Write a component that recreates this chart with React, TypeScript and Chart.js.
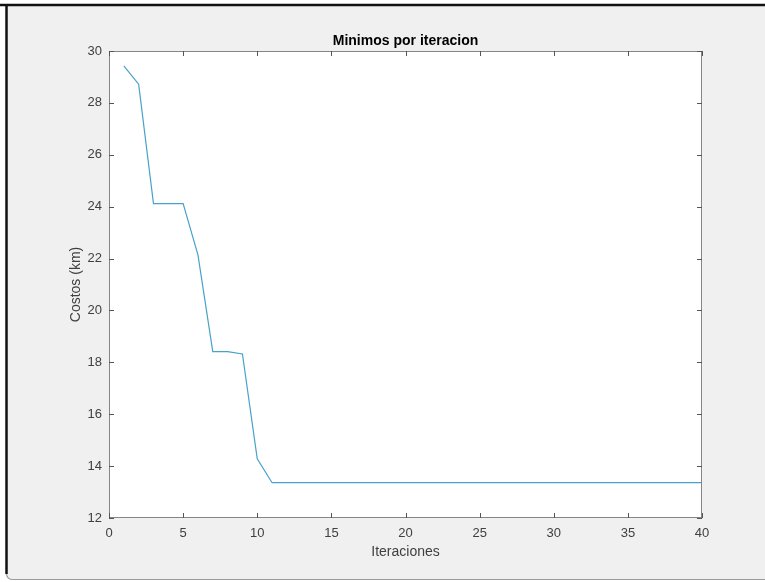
import React, { useEffect, useRef } from "react";
import { Chart, registerables } from "chart.js";

Chart.register(...registerables);

const TITLE = "Minimos por iteracion";
const X_LABEL = "Iteraciones";
const Y_LABEL = "Costos (km)";

const iterations = [
  1, 2, 3, 4, 5, 6, 7, 8, 9, 10,
  11, 12, 13, 14, 15, 16, 17, 18, 19, 20,
  21, 22, 23, 24, 25, 26, 27, 28, 29, 30,
  31, 32, 33, 34, 35, 36, 37, 38, 39, 40,
];

const costs = [
  29.43, 28.72, 24.12, 24.12, 24.12, 22.14, 18.41, 18.41, 18.32, 14.28,
  13.36, 13.36, 13.36, 13.36, 13.36, 13.36, 13.36, 13.36, 13.36, 13.36,
  13.36, 13.36, 13.36, 13.36, 13.36, 13.36, 13.36, 13.36, 13.36, 13.36,
  13.36, 13.36, 13.36, 13.36, 13.36, 13.36, 13.36, 13.36, 13.36, 13.36,
];

const X_MIN = 0;
const X_MAX = 40;
const X_STEP = 5;
const Y_MIN = 12;
const Y_MAX = 30;
const Y_STEP = 2;

const FONT = "'Liberation Sans', Arial, Helvetica, sans-serif";
const TEXT_COLOR = "#404040";
const AXIS_COLOR = "#858585";
const LINE_COLOR = "#47a2cb";

const W = 765;
const H = 582;

const framePlugin = {
  id: "matlabFrame",
  beforeDraw(chart: any) {
    const { ctx, chartArea } = chart;
    ctx.save();
    ctx.fillStyle = "#ffffff";
    ctx.fillRect(0, 0, W, H);
    // figure background
    ctx.fillStyle = "#f0f0f0";
    ctx.beginPath();
    ctx.moveTo(7, 5);
    ctx.lineTo(W, 5);
    ctx.lineTo(W, 579.5);
    ctx.lineTo(12, 579.5);
    ctx.quadraticCurveTo(7, 579.5, 7, 574);
    ctx.closePath();
    ctx.fill();
    // outer frame lines
    ctx.strokeStyle = "#111111";
    ctx.lineWidth = 2.5;
    ctx.beginPath();
    ctx.moveTo(0, 5);
    ctx.lineTo(W, 5);
    ctx.stroke();
    ctx.beginPath();
    ctx.moveTo(6.5, 5);
    ctx.lineTo(6.5, 574);
    ctx.stroke();
    ctx.strokeStyle = "#9a9a9a";
    ctx.lineWidth = 1.2;
    ctx.beginPath();
    ctx.moveTo(6.5, 574);
    ctx.quadraticCurveTo(7, 579.5, 13, 579.5);
    ctx.lineTo(W, 579.5);
    ctx.stroke();
    // plot area
    ctx.fillStyle = "#ffffff";
    ctx.fillRect(
      chartArea.left,
      chartArea.top,
      chartArea.right - chartArea.left,
      chartArea.bottom - chartArea.top
    );
    ctx.restore();
  },
  afterDraw(chart: any) {
    const { ctx, chartArea, scales } = chart;
    const { left, right, top, bottom } = chartArea;
    const tl = 5;
    ctx.save();
    ctx.strokeStyle = AXIS_COLOR;
    ctx.lineWidth = 1;
    ctx.strokeRect(left + 0.5, top + 0.5, right - left - 1, bottom - top - 1);
    ctx.strokeStyle = "#555555";
    ctx.beginPath();
    scales.x.ticks.forEach((t: any) => {
      const px = Math.round(scales.x.getPixelForValue(t.value)) + 0.5;
      ctx.moveTo(px, bottom);
      ctx.lineTo(px, bottom - tl);
      ctx.moveTo(px, top);
      ctx.lineTo(px, top + tl);
    });
    scales.y.ticks.forEach((t: any) => {
      const py = Math.round(scales.y.getPixelForValue(t.value)) + 0.5;
      ctx.moveTo(left, py);
      ctx.lineTo(left + tl, py);
      ctx.moveTo(right, py);
      ctx.lineTo(right - tl, py);
    });
    ctx.stroke();
    ctx.restore();
  },
};

export default function App() {
  const canvasRef = useRef<HTMLCanvasElement | null>(null);

  useEffect(() => {
    const canvas = canvasRef.current;
    if (!canvas) return;
    const data = iterations.map((x, i) => ({ x, y: costs[i] }));
    const chart = new Chart(canvas, {
      type: "line",
      data: {
        datasets: [
          {
            data,
            borderColor: LINE_COLOR,
            borderWidth: 1.2,
            pointRadius: 0,
            fill: false,
            tension: 0,
          },
        ],
      },
      options: {
        animation: false,
        responsive: false,
        maintainAspectRatio: false,
        devicePixelRatio: 1,
        layout: { padding: { left: 0, right: 63, top: 0, bottom: 0 } },
        plugins: {
          legend: { display: false },
          tooltip: { enabled: false },
          title: {
            display: true,
            fullSize: false,
            text: TITLE,
            color: "#000000",
            font: { family: FONT, size: 14, weight: "bold" },
            padding: { top: 32.6, bottom: 1.6 },
          },
        },
        scales: {
          x: {
            type: "linear",
            min: X_MIN,
            max: X_MAX,
            ticks: {
              stepSize: X_STEP,
              padding: 8,
              color: TEXT_COLOR,
              font: { family: FONT, size: 13 },
              maxRotation: 0,
            },
            grid: { display: false, drawTicks: false },
            border: { display: false },
            title: {
              display: true,
              text: X_LABEL,
              color: TEXT_COLOR,
              font: { family: FONT, size: 14 },
              padding: { top: 0, bottom: 21.6 },
            },
            afterFit: (s: any) => {
              s.height = 64;
            },
          },
          y: {
            type: "linear",
            min: Y_MIN,
            max: Y_MAX,
            ticks: {
              stepSize: Y_STEP,
              padding: 7,
              color: TEXT_COLOR,
              font: { family: FONT, size: 13 },
            },
            grid: { display: false, drawTicks: false },
            border: { display: false },
            title: {
              display: true,
              text: Y_LABEL,
              color: TEXT_COLOR,
              font: { family: FONT, size: 14 },
              padding: { top: 67.6, bottom: 0 },
            },
            afterFit: (s: any) => {
              s.width = 109;
            },
          },
        },
      },
      plugins: [framePlugin],
    } as any);
    return () => chart.destroy();
  }, []);

  return (
    <div style={{ position: "fixed", left: 0, top: 0, width: W, height: H }}>
      <canvas
        ref={canvasRef}
        width={W}
        height={H}
        style={{ display: "block", width: W, height: H }}
      />
    </div>
  );
}
